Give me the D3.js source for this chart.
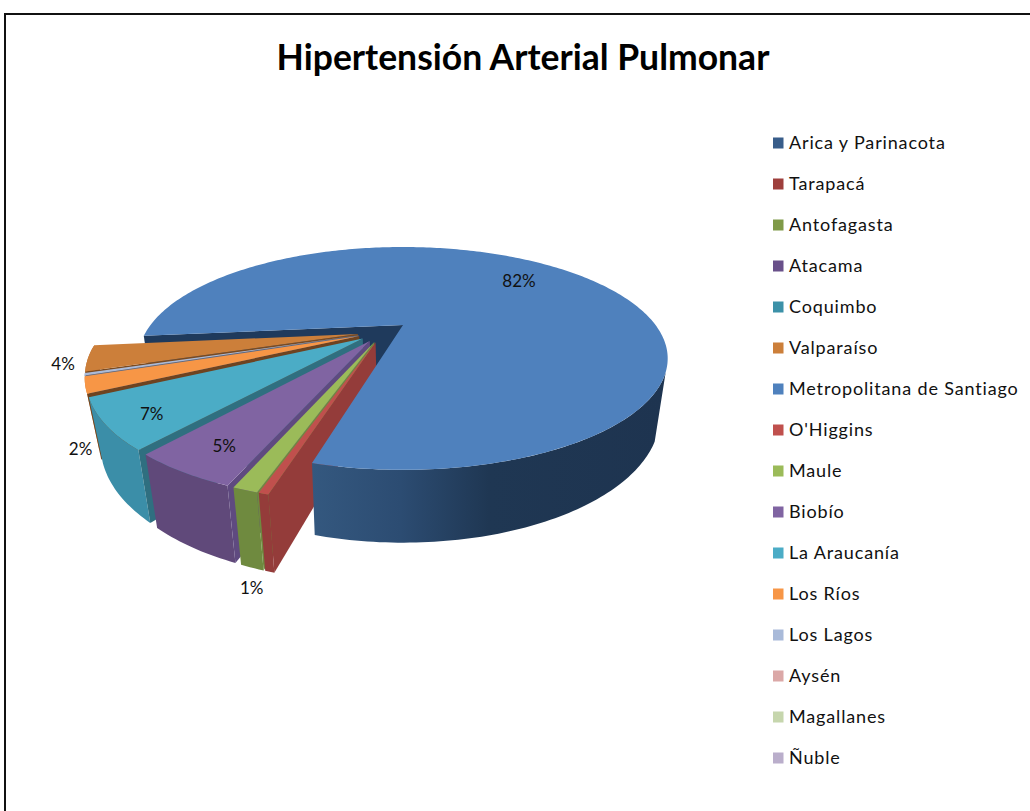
<!DOCTYPE html>
<html><head><meta charset="utf-8">
<style>html,body{margin:0;padding:0;background:#fff;overflow:hidden}svg{display:block}</style>
<script src="https://cdn.jsdelivr.net/npm/d3@7"></script></head>
<body><svg id="c" width="1030" height="811"></svg>
<script>
const titleText = "Hipertensión Arterial Pulmonar";
const regions = ["Arica y Parinacota","Tarapacá","Antofagasta","Atacama","Coquimbo","Valparaíso","Metropolitana de Santiago","O'Higgins","Maule","Biobío","La Araucanía","Los Ríos","Los Lagos","Aysén","Magallanes","Ñuble"];
const shares = [0,0,0,0,0,3.6,81.5,0.45,1.15,5.0,6.7,2.2,0.3,0,0,0];
const legendColors = ["#385d8a","#9e3f3c","#7f9a48","#69508a","#3c91a8","#cc7f3a","#4f81bd","#c0504d","#9bbb59","#8064a2","#4bacc6","#f79646","#a9bad9","#dba8a7","#c6d6ad","#baaecb"];
const wallColors = ["#385d8a","#943c3a","#76923c","#60497a","#31859c","#7a4a20","#1f3a5c","#943c3a","#6f8a3f","#5f4a80","#2f6f80","#6e4320","#5a6a88","#b66d31","#76923c","#60497a"];
const rimColors  = ["#385d8a","#943c3a","#76923c","#60497a","#3b8ea8","#b66d31","#2f5178","#943c3a","#6f8a3f","#60497a","#3b8ea8","#d9853a","#8a9ab8","#b66d31","#76923c","#60497a"];
// label placement: radius in pie units and angular bias in degrees
const labelRadius = {"Valparaíso":[1.065,1.6],"Metropolitana de Santiago":[0.73,3],"Maule":[1.32,8.5],"Biobío":[0.83,1],"La Araucanía":[0.85,2],"Los Ríos":[1.10,22]};

const svg = d3.select("#c");
const TAU = Math.PI*2, DEG = Math.PI/180;
const k = 0.30, depth = 54, explode = 0.10, fanRadius = 0.985;
const mainBottom = 0.97, fanBottom = 0.955, fanDepth = 1.06;
const xS = d3.scaleLinear().domain([-1,1]).range([403-252.5,403+252.5]);
const yS = d3.scaleLinear().domain([-1,1]).range([325+101.4,325-101.4]);
const proj = (u,v,z=0,b=1)=>{const s=1/(1+k*v);return [xS(u*s*b), yS(v*s*b)+z*depth*s];};
const line = d3.line();
const explodeDir = 40.25*DEG;
const centre = [-explode*Math.cos(explodeDir), -explode*Math.sin(explodeDir)];

const arcs = d3.pie().sort(null).value(d=>d).startAngle(-108.8*DEG).endAngle(-108.8*DEG+TAU)(shares)
  .map((a,i)=>{
    const t0=Math.PI/2-a.endAngle, t1=Math.PI/2-a.startAngle; // plane angles, t0<t1
    const mid=(t0+t1)/2;
    const isMain = regions[i]==="Metropolitana de Santiago";
    const ap=isMain?[0,0]:[centre[0]+explode*Math.cos(mid), centre[1]+explode*Math.sin(mid)];
    return {i,name:regions[i],value:shares[i],t0,t1,mid,ap,r:isMain?1:fanRadius,b:isMain?mainBottom:fanBottom,z:isMain?1:fanDepth};
  }).filter(d=>d.value>0);

const top3=(d,t)=>proj(d.ap[0]+d.r*Math.cos(t),d.ap[1]+d.r*Math.sin(t));
const low3=(d,t)=>proj(d.ap[0]+d.r*Math.cos(t),d.ap[1]+d.r*Math.sin(t),d.z,d.b);
const steps=(a,b)=>{const n=Math.max(2,Math.ceil(Math.abs(b-a)/DEG));return d3.range(n+1).map(j=>a+(b-a)*j/n);};
const topPath = d=>line([proj(d.ap[0],d.ap[1]),...steps(d.t0,d.t1).map(t=>top3(d,t))])+"Z";
const radialWall = (d,t)=>line([proj(d.ap[0],d.ap[1]),top3(d,t),low3(d,t),proj(d.ap[0],d.ap[1],d.z,d.b)])+"Z";
const rimWall = (d,a,b,c=b)=>line([...steps(a,b).map(t=>top3(d,t)),...steps(c,a).map(t=>low3(d,t))])+"Z";

const defs = svg.append("defs");
const grad = defs.append("linearGradient").attr("id","mainWall");
[[0,"#34587f"],[0.25,"#2c4c72"],[0.5,"#1f3753"],[1,"#1e3450"]].forEach(s=>grad.append("stop").attr("offset",s[0]).attr("stop-color",s[1]));

svg.append("rect").attr("width",1030).attr("height",811).attr("fill","#fff");
svg.append("rect").attr("x",5).attr("y",14).attr("width",1200).attr("height",1200).attr("fill","none").attr("stroke","#111").attr("stroke-width",2);

svg.append("text").attr("x",523).attr("y",70).attr("text-anchor","middle")
  .attr("font-family","Lato").attr("font-weight",700).attr("font-size",35.5).attr("fill","#000").text(titleText);

const main = arcs.find(d=>d.name==="Metropolitana de Santiago");
const others = arcs.filter(d=>d!==main).sort((a,b)=>{
    const f=x=>{let m=x.mid/DEG;while(m<0)m+=360;return m;};return f(a)-f(b);});

const g = svg.append("g");
g.append("path").attr("d",radialWall(main,main.t1)).attr("fill","#1f3a5c");
others.forEach(d=>{
  g.append("path").attr("d",rimWall(d,d.t0,d.t1)).attr("fill",rimColors[d.i]);
  g.append("path").attr("d",radialWall(d,d.t1)).attr("fill",wallColors[d.i]);
  g.append("path").attr("d",topPath(d)).attr("fill",legendColors[d.i]);
});
g.append("path").attr("d",rimWall(main,main.t0,-24*DEG,-28*DEG)).attr("fill","url(#mainWall)");
g.append("path").attr("d",topPath(main)).attr("fill",legendColors[main.i]);

const lab = svg.append("g").attr("font-family","Lato").attr("font-size",17).attr("fill","#111").attr("text-anchor","middle");
arcs.filter(d=>Math.round(d.value)>=1).forEach(d=>{
  const sp=labelRadius[d.name]; if(!sp) return;
  const t=d.mid+sp[1]*DEG;
  const p=proj(d.ap[0]+sp[0]*Math.cos(t),d.ap[1]+sp[0]*Math.sin(t));
  lab.append("text").attr("x",p[0]).attr("y",p[1]).attr("dy","0.35em").text(Math.round(d.value)+"%");
});

const ly = d3.scalePoint().domain(regions).range([143,758]);
const leg = svg.append("g");
regions.forEach((r,i)=>{
  leg.append("rect").attr("x",773).attr("y",ly(r)-5.5).attr("width",10.5).attr("height",11).attr("fill",legendColors[i]);
  leg.append("text").attr("x",789).attr("y",ly(r)).attr("dy","0.35em").attr("font-family","Lato").attr("font-size",18).attr("letter-spacing",0.85).attr("fill","#111").text(r);
});
</script></body></html>
